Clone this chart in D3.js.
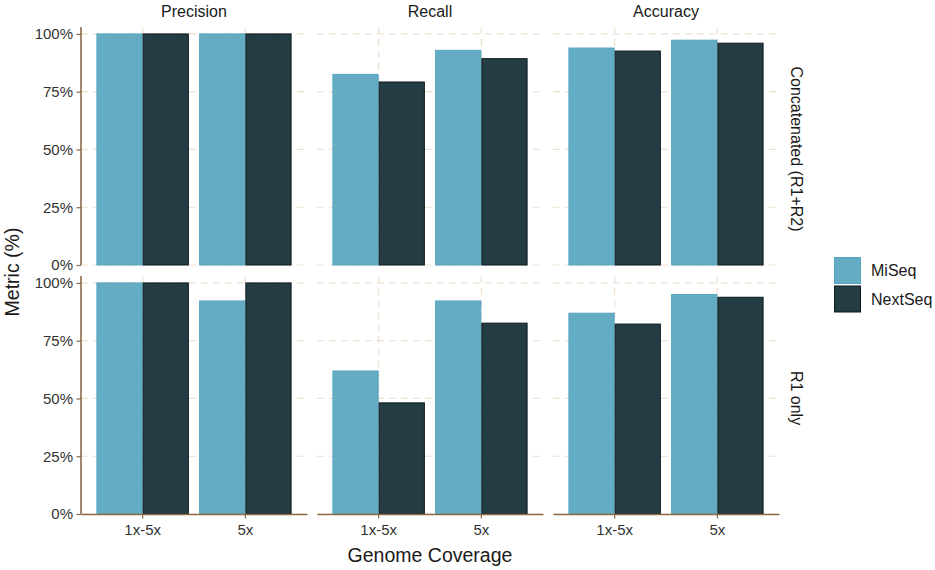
<!DOCTYPE html>
<html><head><meta charset="utf-8">
<script src="https://cdn.jsdelivr.net/npm/d3@7"></script>
<style>body{margin:0;background:#fff}svg{display:block}text{font-family:"Liberation Sans",Arial,sans-serif}</style>
</head><body><svg id="c" width="935" height="570"></svg>
<script>
const metrics = ["Precision","Recall","Accuracy"];
const readTypes = ["Concatenated (R1+R2)","R1 only"];
const coverages = ["1x-5x","5x"];
const platforms = ["MiSeq","NextSeq"];
const yTicks = [0,0.25,0.5,0.75,1];
// values [readType][metric][coverage] = [MiSeq, NextSeq]
const concatPrecision = [[1.000,1.000],[1.000,1.000]];
const concatRecall    = [[0.825,0.792],[0.929,0.893]];
const concatAccuracy  = [[0.939,0.926],[0.973,0.960]];
const r1Precision = [[1.000,1.000],[0.922,1.000]];
const r1Recall    = [[0.619,0.481],[0.922,0.826]];
const r1Accuracy  = [[0.869,0.822],[0.950,0.938]];
const values = [[concatPrecision,concatRecall,concatAccuracy],[r1Precision,r1Recall,r1Accuracy]];

const fills = {MiSeq:"#64acc3", NextSeq:"#243c44"};
const strokes = {MiSeq:"#55a6c0", NextSeq:"#0d1b20"};
const axisCol = "#8a6a46", gridCol = "#efe1d1";

const svg = d3.select("#c");
const cols = [[81,307],[317,543],[553,779]];
const rows = [[27,265],[276,514]];

rows.forEach((ry, ri) => {
  const y = d3.scaleLinear().domain([0,1.03]).range([ry[1], ry[0]]);
  cols.forEach((cx, ci) => {
    const g = svg.append("g");
    const x = d3.scaleBand().domain(coverages).range(cx).paddingInner(0.1).paddingOuter(0.15);
    const xs = d3.scaleBand().domain(platforms).range([0, x.bandwidth()]);
    // grid
    g.selectAll("line.h").data(yTicks).join("line")
      .attr("x1",cx[0]).attr("x2",cx[1]).attr("y1",d=>y(d)).attr("y2",d=>y(d))
      .attr("stroke",gridCol).attr("stroke-width",1.2).attr("stroke-dasharray","7,5");
    g.selectAll("line.v").data(coverages).join("line")
      .attr("x1",d=>x(d)+x.bandwidth()/2).attr("x2",d=>x(d)+x.bandwidth()/2)
      .attr("y1",ry[0]).attr("y2",ry[1])
      .attr("stroke",gridCol).attr("stroke-width",1.2).attr("stroke-dasharray","7,5");
    // bars
    const data = [];
    coverages.forEach((c,k)=>platforms.forEach((p,j)=>data.push({c,p,v:values[ri][ci][k][j]})));
    g.selectAll("rect").data(data).join("rect")
      .attr("x",d=>x(d.c)+xs(d.p)+0.5).attr("width",xs.bandwidth()-1)
      .attr("y",d=>y(d.v)).attr("height",d=>y(0)-y(d.v))
      .attr("fill",d=>fills[d.p]).attr("stroke",d=>strokes[d.p]).attr("stroke-width",1);
    // y axis on left column
    if (ci===0) {
      const ya = g.append("g").attr("transform",`translate(${cx[0]},0)`)
        .call(d3.axisLeft(y).tickValues(yTicks).tickFormat(d3.format(".0%")).tickSize(4.5).tickSizeOuter(0));
      ya.select(".domain").attr("stroke",axisCol).attr("stroke-width",1.6).attr("d",`M0,${ry[0]}V${ry[1]}`);
      ya.selectAll(".tick line").attr("stroke",axisCol).attr("stroke-width",1.2);
      ya.selectAll(".tick text").attr("fill","#333").style("font-size","15px").attr("x",-8);
    }
    // x axis on bottom row
    if (ri===1) {
      const xa = g.append("g").attr("transform",`translate(0,${ry[1]})`)
        .call(d3.axisBottom(x).tickSize(4.5).tickSizeOuter(0));
      xa.select(".domain").attr("stroke",axisCol).attr("stroke-width",1.6);
      xa.selectAll(".tick line").attr("stroke",axisCol).attr("stroke-width",1.2);
      xa.selectAll(".tick text").attr("fill","#333").style("font-size","15px").attr("y",10);
    }
    if (ri===0) {
      svg.append("text").attr("x",(cx[0]+cx[1])/2).attr("y",16.5).attr("text-anchor","middle")
        .attr("fill","#1a1a1a").style("font-size","16px").text(metrics[ci]);
    }
  });
  svg.append("text").attr("transform",`translate(791,${(ry[0]+ry[1])/2 + 3}) rotate(90)`)
    .attr("text-anchor","middle").attr("fill","#1a1a1a").style("font-size","16px").text(readTypes[ri]);
});

svg.append("text").attr("transform","translate(19,272) rotate(-90)").attr("text-anchor","middle")
  .attr("fill","#1a1a1a").style("font-size","19.5px").text("Metric (%)");
svg.append("text").attr("x",430).attr("y",562).attr("text-anchor","middle")
  .attr("fill","#1a1a1a").style("font-size","19.5px").text("Genome Coverage");

const leg = svg.append("g");
platforms.forEach((p,i)=>{
  leg.append("rect").attr("x",834.5).attr("y",257.5+i*28.5).attr("width",26).attr("height",26)
    .attr("fill",fills[p]).attr("stroke",strokes[p]).attr("stroke-width",1);
  leg.append("text").attr("x",871).attr("y",270.5+i*28.5).attr("dy","0.35em")
    .attr("fill","#1a1a1a").style("font-size","16px").text(p);
});
</script></body></html>
